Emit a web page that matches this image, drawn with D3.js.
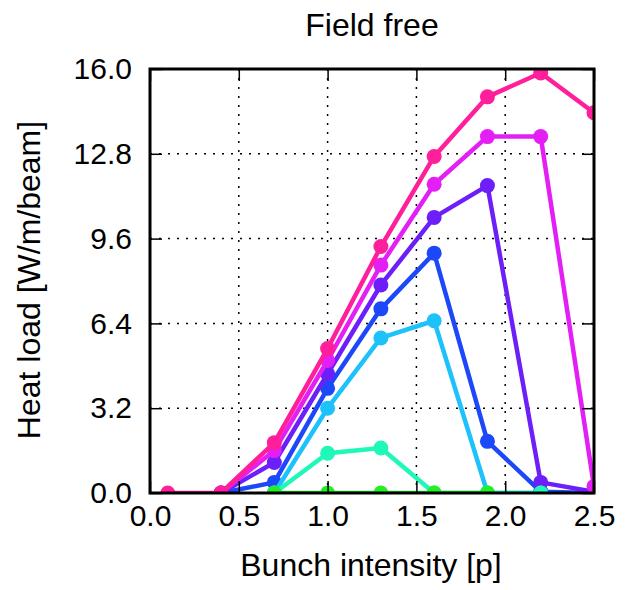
<!DOCTYPE html>
<html><head><meta charset="utf-8">
<script src="https://cdn.jsdelivr.net/npm/d3@7"></script>
<style>body{margin:0;background:#fff;} svg{display:block;font-family:"Liberation Sans",Arial,sans-serif;}</style>
</head><body>
<svg id="c" width="630" height="590"></svg>
<script>
const title = "Field free";
const xLabel = "Bunch intensity [p]";
const yLabel = "Heat load [W/m/beam]";
const xTicks = [0.0, 0.5, 1.0, 1.5, 2.0, 2.5];
const yTicks = [0.0, 3.2, 6.4, 9.6, 12.8, 16.0];
// drawing order (last on top)
const seriesNames = ["s4", "s5", "s6", "s3", "s2", "s7", "s1"];
const seriesColors = ["#1c48fa", "#6c1ff8", "#e41ff5", "#1ec2fa", "#1ff8b8", "#ff1f9a", "#22f022"];
const xs7 = [0.1, 0.4, 0.7, 1.0, 1.3, 1.6, 1.9, 2.2, 2.5];
const ys7 = [0.0, 0.0, 1.9, 5.45, 9.3, 12.7, 14.95, 15.85, 14.35];
const xs6 = [0.4, 0.7, 1.0, 1.3, 1.6, 1.9, 2.2, 2.5];
const ys6 = [0.0, 1.6, 5.0, 8.6, 11.65, 13.45, 13.45, 0.25];
const xs5 = [0.4, 0.7, 1.0, 1.3, 1.6, 1.9, 2.2, 2.5];
const ys5 = [0.0, 1.15, 4.5, 7.85, 10.4, 11.6, 0.4, 0.05];
const xs4 = [0.4, 0.7, 1.0, 1.3, 1.6, 1.9, 2.2, 2.5];
const ys4 = [0.0, 0.4, 3.95, 6.95, 9.05, 1.95, 0.05, 0.0];
const xs3 = [0.7, 1.0, 1.3, 1.6, 1.9, 2.2];
const ys3 = [0.0, 3.2, 5.85, 6.5, 0.0, 0.0];
const xs2 = [0.7, 1.0, 1.3, 1.6, 1.9, 2.2];
const ys2 = [0.0, 1.5, 1.7, 0.0, 0.0, 0.0];
const xs1 = [0.7, 1.0, 1.3, 1.6, 1.9];
const ys1 = [0.0, 0.0, 0.0, 0.0, 0.0];
const xsAll = [xs4, xs5, xs6, xs3, xs2, xs7, xs1];
const ysAll = [ys4, ys5, ys6, ys3, ys2, ys7, ys1];

const svg = d3.select("#c");
const L = 150, R = 594, T = 69, B = 493;
const x = d3.scaleLinear().domain([0, 2.5]).range([L, R]);
const y = d3.scaleLinear().domain([0, 16]).range([B, T]);

// grid
const g = svg.append("g");
g.selectAll(".gx").data(xTicks.slice(1, -1)).enter().append("line")
  .attr("x1", d => x(d)).attr("x2", d => x(d)).attr("y1", T).attr("y2", B)
  .attr("stroke", "#000").attr("stroke-width", 1.5).attr("stroke-dasharray", "2,7");
g.selectAll(".gy").data(yTicks.slice(1, -1)).enter().append("line")
  .attr("y1", d => y(d)).attr("y2", d => y(d)).attr("x1", L).attr("x2", R)
  .attr("stroke", "#000").attr("stroke-width", 1.5).attr("stroke-dasharray", "2,7");

// series
svg.append("clipPath").attr("id", "clp2").append("rect")
  .attr("x", L).attr("y", T).attr("width", R - L).attr("height", B - T);
const line = d3.line().x(d => x(d[0])).y(d => y(d[1]));
seriesNames.forEach((n, i) => {
  const pts = xsAll[i].map((v, j) => [v, ysAll[i][j]]);
  const sg = svg.append("g").attr("clip-path", "url(#clp2)");
  sg.append("path").datum(pts).attr("d", line).attr("fill", "none")
    .attr("stroke", seriesColors[i]).attr("stroke-width", 4.5).attr("stroke-linejoin", "round");
  sg.selectAll("circle").data(pts).enter().append("circle")
    .attr("cx", d => x(d[0])).attr("cy", d => y(d[1])).attr("r", 7.5)
    .attr("fill", seriesColors[i]);
});

// axes with inward ticks on all sides
const tl = 12;
const axB = d3.axisBottom(x).tickValues(xTicks).tickFormat(d3.format(".1f")).tickSizeInner(-tl).tickSizeOuter(0).tickPadding(12);
const axL = d3.axisLeft(y).tickValues(yTicks).tickFormat(d3.format(".1f")).tickSizeInner(-tl).tickSizeOuter(0).tickPadding(18);
const axT = d3.axisTop(x).tickValues(xTicks).tickFormat("").tickSizeInner(-tl).tickSizeOuter(0);
const axR = d3.axisRight(y).tickValues(yTicks).tickFormat("").tickSizeInner(-tl).tickSizeOuter(0);
function style(sel) {
  sel.select(".domain").remove();
  sel.selectAll(".tick line").attr("stroke", "#000").attr("stroke-width", 1.5);
  sel.selectAll(".tick text").attr("fill", "#000").attr("font-size", 30).attr("font-family", "Liberation Sans, Arial, sans-serif");
}
svg.append("g").attr("transform", `translate(0,${B})`).call(axB).call(style);
svg.append("g").attr("transform", `translate(${L},0)`).call(axL).call(style);
svg.append("g").attr("transform", `translate(0,${T})`).call(axT).call(style);
svg.append("g").attr("transform", `translate(${R},0)`).call(axR).call(style);

// frame
svg.append("rect").attr("x", L).attr("y", T).attr("width", R - L).attr("height", B - T)
  .attr("fill", "none").attr("stroke", "#000").attr("stroke-width", 3);

// labels
svg.append("text").attr("x", (L + R) / 2).attr("y", 36).attr("text-anchor", "middle")
  .attr("font-size", 32).text(title);
svg.append("text").attr("x", (L + R) / 2 - 1).attr("y", 576).attr("text-anchor", "middle")
  .attr("font-size", 32).text(xLabel);
svg.append("text").attr("transform", `translate(40,${(T + B) / 2 - 1}) rotate(-90)`).attr("text-anchor", "middle")
  .attr("font-size", 32).text(yLabel);
</script>
</body></html>
